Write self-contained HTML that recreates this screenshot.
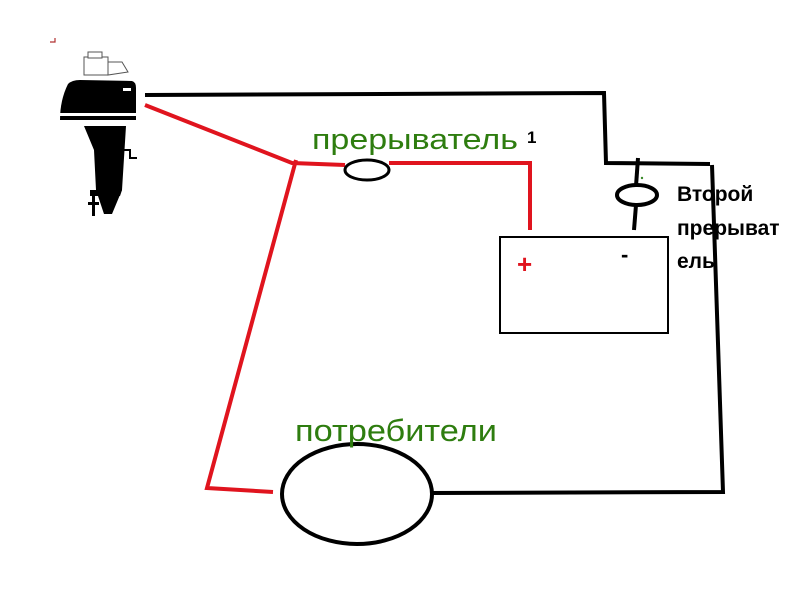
<!DOCTYPE html>
<html><head><meta charset="utf-8"><style>
html,body{margin:0;padding:0;background:#fff;}
svg{display:block;}
text{font-family:"Liberation Sans","DejaVu Sans",sans-serif;}
</style></head><body>
<svg width="800" height="600" viewBox="0 0 800 600" xmlns="http://www.w3.org/2000/svg">
<rect width="800" height="600" fill="#fff"/>
<path d="M50 42 L55 42 L55 38" stroke="#b03030" stroke-width="1.2" fill="none"/>
<g>
<rect x="84" y="57" width="24" height="18" fill="#fff" stroke="#555" stroke-width="1"/>
<rect x="88" y="52" width="14" height="6" fill="#fff" stroke="#555" stroke-width="1"/>
<path d="M108 62 L122 62 L128 72 L108 75 Z" fill="#fff" stroke="#555" stroke-width="1"/>
<path d="M68 84 Q72 80 80 80 L132 81 Q136 82 136 88 L136 120 L60 120 Q60 100 68 84 Z" fill="#000"/>
<rect x="60" y="113" width="76" height="3" fill="#fff"/>
<rect x="123" y="88" width="8" height="3" fill="#fff"/>
<path d="M84 126 L126 126 L122 190 L112 214 L104 214 L96 190 L94 150 Z" fill="#000"/>
<path d="M90 190 L122 190 L120 196 L90 196 Z" fill="#000"/>
<rect x="92" y="196" width="3" height="20" fill="#000"/>
<rect x="88" y="202" width="11" height="3" fill="#000"/>
<path d="M122 150 L130 150 L130 158 L137 158" stroke="#000" stroke-width="2" fill="none"/>
</g>
<g stroke="#000" stroke-width="4" fill="none">
<polyline points="145,95 604,93 606,163 710,164"/>
<polyline points="712,165 723,492 430,493"/>
<line x1="638" y1="158" x2="636" y2="186"/>
<line x1="636" y1="205" x2="634" y2="230"/>
<ellipse cx="637" cy="195" rx="20" ry="10"/>
<ellipse cx="357" cy="494" rx="75" ry="50"/>
</g>
<circle cx="642" cy="178" r="1.2" fill="#3a8a2a"/>
<rect x="500" y="237" width="168" height="96" fill="none" stroke="#000" stroke-width="2"/>
<g stroke="#e0141e" stroke-width="4" fill="none">
<polyline points="145,105 292,163 345,165"/>
<polyline points="389,163 530,163 530,230"/>
<polyline points="296,160 207,488 273,492"/>
</g>
<ellipse cx="367" cy="170" rx="22" ry="10" stroke="#000" stroke-width="3" fill="none"/>
<text x="312" y="149" font-size="29" fill="#2e7d0f" textLength="206" lengthAdjust="spacingAndGlyphs">прерыватель</text>
<text x="527" y="143" font-size="17" font-weight="bold" fill="#000">1</text>
<text x="295" y="441" font-size="31" fill="#2e7d0f" textLength="202" lengthAdjust="spacingAndGlyphs">потребители</text>
<text x="517" y="273" font-size="26" font-weight="bold" fill="#e0141e">+</text>
<text x="621" y="262" font-size="22" font-weight="bold" fill="#000">-</text>
<text font-size="21" font-weight="bold" fill="#000">
<tspan x="677" y="201">Второй</tspan>
<tspan x="677" y="235">прерыват</tspan>
<tspan x="677" y="268">ель</tspan>
</text>
</svg>
</body></html>
